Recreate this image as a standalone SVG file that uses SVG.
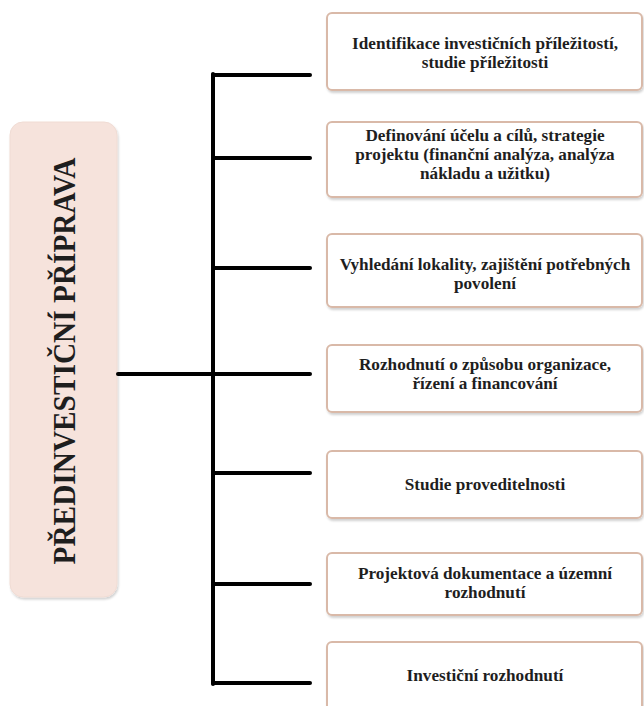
<svg xmlns="http://www.w3.org/2000/svg" width="644" height="706" viewBox="0 0 644 706">
  <style>
    .box { fill: #ffffff; stroke: #d9b9a8; stroke-width: 2; filter: url(#shadow); }
    .lbl { font-family: "Liberation Serif", "Times New Roman", serif; font-weight: bold; font-size: 17.2px; fill: #1e1e1e; text-anchor: middle; }
    .title { font-family: "Liberation Serif", "Times New Roman", serif; font-weight: bold; font-size: 32px; fill: #1e1e1e; }
    .wire { stroke: #000000; stroke-width: 4; stroke-linecap: round; fill: none; }
  </style>
  <defs>
    <filter id="shadow" x="-5%" y="-10%" width="110%" height="130%">
      <feDropShadow dx="1" dy="2" stdDeviation="1.2" flood-color="#000000" flood-opacity="0.18"/>
    </filter>
  </defs>
  <rect width="644" height="706" fill="#ffffff"/>

  <!-- root node -->
  <g id="root">
    <rect x="10" y="122" width="107" height="475" rx="13" fill="#f6e3dc" stroke="#f0dcd4" stroke-width="1" filter="url(#shadow)"/>
    <text class="title" transform="translate(75,361) rotate(-90)" x="-203.5" y="0" textLength="407" lengthAdjust="spacingAndGlyphs">PŘEDINVESTIČNÍ PŘÍPRAVA</text>
  </g>

  <!-- connectors: trunk, root link and one branch per step -->
  <g id="connectors">
    <line class="wire" x1="118" y1="374" x2="213" y2="374"/>
    <line class="wire" x1="213" y1="74" x2="213" y2="684"/>
    <line class="wire" x1="213" y1="75" x2="310" y2="75"/>
    <line class="wire" x1="213" y1="158" x2="310" y2="158"/>
    <line class="wire" x1="213" y1="268" x2="310" y2="268"/>
    <line class="wire" x1="213" y1="374" x2="310" y2="374"/>
    <line class="wire" x1="213" y1="473" x2="310" y2="473"/>
    <line class="wire" x1="213" y1="584" x2="310" y2="584"/>
    <line class="wire" x1="213" y1="683" x2="310" y2="683"/>
  </g>

  <!-- step nodes -->
  <g id="step1">
    <rect class="box" x="327" y="13" width="315" height="77" rx="5"/>
    <text class="lbl" x="485" y="49">Identifikace investičních příležitostí,</text>
    <text class="lbl" x="485" y="68">studie příležitosti</text>
  </g>
  <g id="step2">
    <rect class="box" x="327" y="122" width="315" height="75" rx="5"/>
    <text class="lbl" x="485" y="141">Definování účelu a cílů, strategie</text>
    <text class="lbl" x="485" y="160">projektu (finanční analýza, analýza</text>
    <text class="lbl" x="485" y="179">nákladu a užitku)</text>
  </g>
  <g id="step3">
    <rect class="box" x="327" y="234" width="315" height="73" rx="5"/>
    <text class="lbl" x="485" y="270">Vyhledání lokality, zajištění potřebných</text>
    <text class="lbl" x="485" y="289">povolení</text>
  </g>
  <g id="step4">
    <rect class="box" x="327" y="345" width="315" height="67" rx="5"/>
    <text class="lbl" x="485" y="370">Rozhodnutí o způsobu organizace,</text>
    <text class="lbl" x="485" y="389">řízení a financování</text>
  </g>
  <g id="step5">
    <rect class="box" x="327" y="451" width="315" height="67" rx="5"/>
    <text class="lbl" x="485" y="490">Studie proveditelnosti</text>
  </g>
  <g id="step6">
    <rect class="box" x="327" y="553" width="315" height="62" rx="5"/>
    <text class="lbl" x="485" y="579">Projektová dokumentace a územní</text>
    <text class="lbl" x="485" y="598">rozhodnutí</text>
  </g>
  <g id="step7">
    <rect class="box" x="327" y="642" width="315" height="70" rx="5"/>
    <text class="lbl" x="485" y="681">Investiční rozhodnutí</text>
  </g>
</svg>
